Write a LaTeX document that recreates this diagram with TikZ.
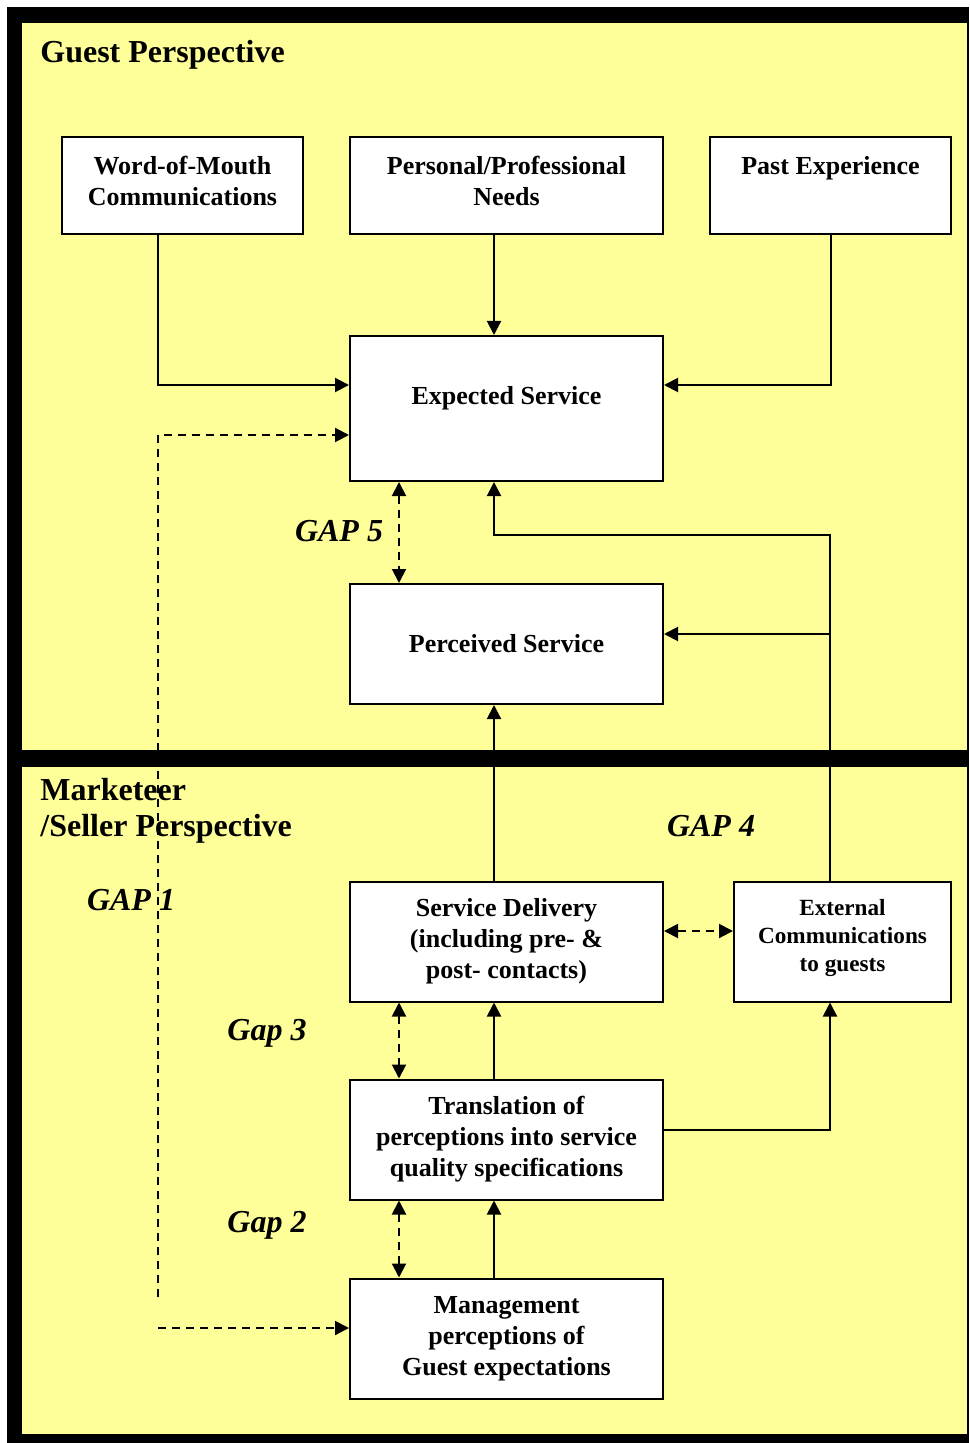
\documentclass[tikz,border=0pt]{standalone}
\usepackage{fontspec}
\setmainfont{Liberation Serif}
\usepackage{tikz}
\usetikzlibrary{arrows.meta}
\definecolor{pale}{RGB}{255, 255, 153}
\definecolor{dark}{RGB}{0, 0, 0}
\newcommand*{\h}{60pt}

\begin{document}
\begin{tikzpicture}[
   x=0.5pt, y=-0.5pt,
   servrec/.style={rectangle, draw=dark, fill=white, line width=1, text=black, align=center,
                   inner sep=2, minimum height=\h, minimum width=156.5pt,
                   font=\bfseries\fontsize{13}{15.5}\selectfont},
   toprec/.style={servrec, minimum height=48.5pt, minimum width=120.5pt, text depth=5pt},
   extrec/.style={servrec, minimum width=108.5pt, text depth=6pt,
                  font=\bfseries\fontsize{11.6}{14}\selectfont},
   headlab/.style={anchor=west, align=left, inner sep=0,
                   font=\bfseries\fontsize{16}{18}\selectfont},
   gaplab/.style={inner sep=0, font=\bfseries\itshape\fontsize{16}{18}\selectfont},
   conn/.style={-{Triangle[length=7pt, width=7pt]}, line width=1, color=dark},
   gapconn/.style={{Triangle[length=7pt, width=7pt]}-{Triangle[length=7pt, width=7pt]},
                   line width=1, dash pattern=on 4pt off 3pt, color=dark},
   dashconn/.style={conn, dash pattern=on 4pt off 3pt}
  ]

  % Frame and panels
  \useasboundingbox (0, 0) rectangle (969, 1443);
  \fill[dark] (7, 7) rectangle (969, 1443);
  \fill[pale] (22, 23) rectangle (967, 750);
  \fill[pale] (22, 767) rectangle (967, 1434);

  \node (GP) at (40, 55) [headlab] {Guest Perspective};
  \node (MP) at (40, 811) [headlab] {Marketeer\\/Seller Perspective};

  % Guest side
  \node (W) at (182.5, 185.5) [toprec] {Word-of-Mouth\\Communications};
  \node (N) at (506.5, 185.5) [toprec, minimum width=156.5pt] {Personal/Professional\\Needs};
  \node (P) at (830.5, 185.5) [toprec] {Past Experience\\\mbox{}};

  \node (ES) at (506.5, 408.5) [servrec, minimum height=72.5pt, text depth=13pt] {Expected Service};
  \node (PS) at (506.5, 644) [servrec] {Perceived Service};

  % Marketeer side
  \node (SD) at (506.5, 941.5) [servrec] {Service Delivery\\(including pre- \&\\post- contacts)};
  \node (EC) at (842.5, 941.5) [extrec] {External\\Communications\\to guests};
  \node (TR) at (506.5, 1139.5) [servrec] {Translation of\\perceptions into service\\quality specifications};
  \node (MG) at (506.5, 1338.5) [servrec] {Management\\perceptions of\\Guest expectations};

  \node (G5) at (339, 531) [gaplab] {GAP 5};
  \node (G4) at (711, 826) [gaplab] {GAP 4};
  \node (G1) at (131, 900) [gaplab] {GAP 1};
  \node (G3) at (267, 1033) [gaplab] {Gap 3};
  \node (G2) at (267, 1225) [gaplab] {Gap 2};

  % Bend points
  \coordinate (col) at (494, 0);
  \coordinate (gx) at (399, 0);
  \coordinate (wbend) at (158, 385);
  \coordinate (ebend) at (830, 535);
  \coordinate (pbend) at (830, 634);
  \coordinate (tbend) at (830, 1130);
  \coordinate (dtop) at (158, 435);
  \coordinate (dfoot) at (158, 1297);
  \coordinate (dlow) at (158, 1328);
  \coordinate (sdec) at (0, 931);

  \draw[conn] (W.south -| wbend) |- (ES.west |- wbend);
  \draw[conn] (P.south) |- (ES.east |- wbend);
  \draw[conn] (EC.north -| ebend) -- (ebend) -| (ES.south -| col);
  \draw[conn] (pbend) -- (PS.east |- pbend);
  \draw[conn] (TR.east |- tbend) -| (EC.south -| tbend);

  \foreach \B/\E in {N/ES} {
    \draw[conn] (\B.south -| col) -- (\E.north -| col);
  }
  \foreach \B/\E in {SD/PS, TR/SD, MG/TR} {
    \draw[conn] (\B.north -| col) -- (\E.south -| col);
  }

  \draw[dashconn] (dfoot) |- (ES.west |- dtop);
  \draw[dashconn] (dlow) -- (MG.west |- dlow);

  \foreach \B/\E in {ES/PS, SD/TR, TR/MG} {
    \draw[gapconn] (\B.south -| gx) -- (\E.north -| gx);
  }
  \draw[gapconn] (SD.east |- sdec) -- (EC.west |- sdec);

\end{tikzpicture}
\end{document}
